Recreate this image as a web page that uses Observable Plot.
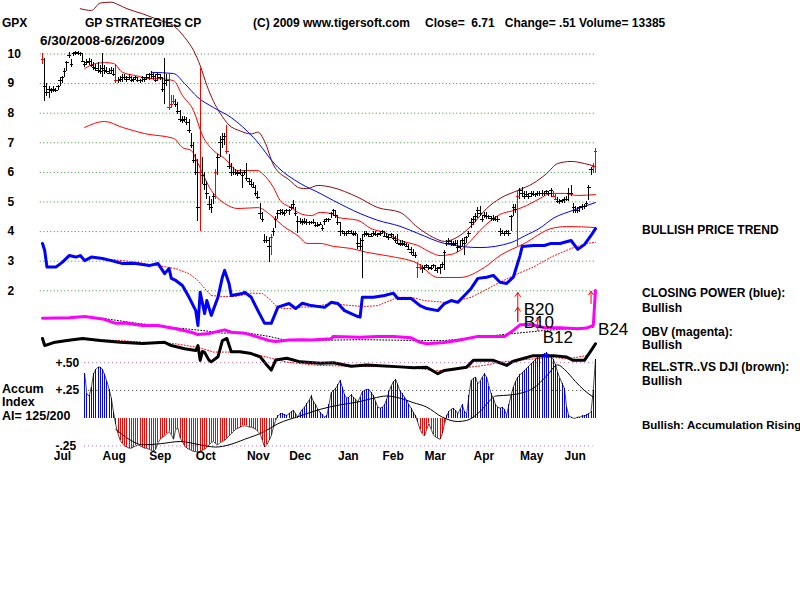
<!DOCTYPE html>
<html><head><meta charset="utf-8">
<script src="https://cdn.jsdelivr.net/npm/d3@7"></script>
<script src="https://cdn.jsdelivr.net/npm/@observablehq/plot@0.6"></script>
<style>
html,body{margin:0;padding:0;background:#fff;}
#wrap{position:relative;width:800px;height:600px;background:#fff;overflow:hidden;}
#wrap svg{position:absolute;left:0;top:0;}
.t{position:absolute;font:bold 12px "Liberation Sans",Arial,sans-serif;white-space:pre;line-height:12px;color:#000;}
</style></head><body><div id="wrap"></div>
<script>
// ---- daily price bars (trading days 0..249, 6/30/2008 - 6/26/2009) ----
const hi = [
10.0,9.85,9.0,8.9,8.85,8.9,8.85,8.95,9.2,9.25,
9.5,9.75,10.05,9.8,10.05,10.1,10.1,10.05,10.0,9.75,
9.8,9.85,9.8,9.7,9.65,9.7,9.6,10.0,9.6,9.55,
9.5,9.55,9.5,9.65,9.2,9.25,9.3,9.3,9.25,9.3,
9.25,9.2,9.25,9.2,9.15,9.25,9.2,9.3,9.35,9.4,
9.35,9.3,9.35,9.3,9.2,9.85,9.3,9.35,8.6,8.6,
8.45,8.35,8.1,7.9,7.9,7.85,7.8,7.3,7.0,6.6,
6.45,9.5,6.5,6.0,5.7,5.2,5.1,5.3,6.1,6.6,
7.2,7.3,7.3,7.6,6.6,6.3,6.15,6.1,6.05,6.1,
6.0,6.05,6.3,5.8,5.75,5.65,5.55,5.35,4.95,4.65,
3.9,3.85,3.8,3.9,4.1,4.5,4.7,4.75,4.75,4.7,
4.75,4.75,4.9,5.05,4.8,4.5,4.45,4.4,4.45,4.4,
4.35,4.35,4.4,4.3,4.3,4.3,4.2,4.4,4.45,4.45,
4.65,4.75,4.7,4.55,4.3,4.05,4.0,4.0,4.05,4.05,
4.0,4.0,3.9,3.75,3.9,4.0,4.0,3.95,3.95,4.0,
4.0,3.95,4.0,4.05,4.0,3.95,3.9,3.95,3.9,3.85,
3.9,3.7,3.7,3.65,3.6,3.55,3.45,3.4,3.3,2.95,
2.9,2.85,2.85,2.9,2.85,2.85,2.9,2.85,2.8,2.9,
2.95,3.35,3.7,3.75,3.7,3.65,3.7,3.7,3.65,3.75,
3.8,3.85,4.0,4.45,4.5,4.6,4.8,4.85,4.55,4.65,
4.65,4.55,4.5,4.55,4.5,4.5,4.1,4.05,4.0,4.05,
4.05,4.55,4.9,4.9,5.35,5.45,5.5,5.35,5.35,5.3,
5.35,5.35,5.3,5.35,5.35,5.4,5.35,5.4,5.35,5.45,
5.35,5.25,5.15,5.1,5.1,5.15,5.2,5.45,5.55,4.95,
4.85,4.8,4.85,4.9,4.9,5.0,5.55,6.15,6.3,6.8];
const lo = [
9.65,8.4,8.55,8.5,8.65,8.7,8.7,8.75,8.9,9.0,
9.2,9.4,9.85,9.55,9.9,9.95,9.95,9.9,9.7,9.55,
9.6,9.6,9.55,9.45,9.4,9.35,9.3,9.2,9.3,9.35,
9.3,9.3,9.25,9.0,9.0,9.05,9.05,9.1,9.05,9.1,
9.05,9.05,9.1,9.05,9.0,9.05,9.05,9.1,9.1,9.15,
9.1,9.05,9.1,9.1,8.7,8.3,8.9,8.1,8.15,8.3,
8.2,7.95,7.7,7.65,7.7,7.6,7.3,6.8,6.3,5.9,
4.35,4.0,5.6,5.4,5.1,4.7,4.6,4.9,5.1,5.9,
6.5,6.8,6.9,6.6,6.1,5.85,5.9,5.9,5.85,5.9,
5.45,5.9,5.7,5.6,5.5,5.45,5.2,5.1,4.4,4.3,
3.6,3.6,2.95,3.2,3.85,4.1,4.4,4.55,4.55,4.5,
4.6,4.55,4.7,4.75,4.5,3.95,4.25,4.2,4.25,4.2,
4.2,4.25,4.25,4.15,4.15,4.2,4.0,4.2,4.3,4.3,
4.45,4.5,4.45,4.2,3.85,3.9,3.85,3.85,3.9,3.9,
3.85,3.85,3.4,3.35,2.4,3.8,3.85,3.8,3.8,3.85,
3.85,3.8,3.85,3.9,3.8,3.75,3.7,3.75,3.7,3.6,
3.55,3.5,3.5,3.5,3.45,3.35,3.2,3.15,3.1,2.4,
2.7,2.6,2.7,2.75,2.7,2.7,2.75,2.65,2.6,2.55,
2.75,2.7,3.5,3.55,3.5,3.5,3.5,3.3,3.4,3.5,
3.2,3.6,3.8,4.1,4.2,4.3,4.45,4.5,4.3,4.45,
4.4,4.4,4.35,4.35,4.35,4.3,3.85,3.9,3.85,3.9,
3.85,4.0,4.5,4.6,3.5,5.1,5.15,5.1,5.15,5.1,
5.15,5.2,5.15,5.2,5.2,5.2,5.2,5.25,5.2,5.15,
5.15,5.05,4.95,4.9,4.95,4.95,5.0,5.0,5.2,4.6,
4.6,4.6,4.65,4.7,4.75,4.8,5.05,5.9,5.95,5.95];
const cl = [
9.8,8.9,8.7,8.8,8.75,8.8,8.75,8.9,9.1,9.2,
9.4,9.7,9.95,9.65,10.0,10.05,10.0,10.0,9.75,9.65,
9.7,9.75,9.6,9.55,9.5,9.45,9.4,9.5,9.45,9.4,
9.35,9.45,9.3,9.1,9.1,9.15,9.2,9.2,9.15,9.2,
9.1,9.15,9.2,9.1,9.1,9.2,9.15,9.2,9.3,9.3,
9.25,9.1,9.3,9.2,8.8,9.0,9.1,8.2,8.3,8.4,
8.3,8.05,7.8,7.75,7.8,7.7,7.4,6.9,6.4,6.0,
4.8,6.0,5.9,5.6,5.3,4.9,4.8,5.2,6.0,6.5,
7.0,7.1,7.2,6.7,6.2,6.0,6.0,6.0,5.95,6.0,
5.9,6.0,5.8,5.7,5.6,5.5,5.3,5.15,4.6,4.4,
3.7,3.7,3.5,3.8,4.0,4.4,4.6,4.7,4.65,4.6,
4.7,4.7,4.8,4.9,4.6,4.35,4.35,4.3,4.35,4.3,
4.3,4.3,4.3,4.2,4.2,4.25,4.1,4.35,4.4,4.4,
4.6,4.7,4.55,4.3,4.0,4.0,3.95,3.95,4.0,3.95,
3.9,3.95,3.6,3.5,3.7,3.9,3.95,3.9,3.85,3.95,
3.9,3.9,3.95,4.0,3.85,3.85,3.8,3.9,3.75,3.7,
3.6,3.55,3.6,3.55,3.5,3.4,3.3,3.2,3.2,2.8,
2.8,2.75,2.8,2.85,2.8,2.75,2.85,2.7,2.75,2.8,
2.9,3.3,3.6,3.65,3.6,3.55,3.6,3.45,3.5,3.7,
3.6,3.8,3.95,4.3,4.4,4.5,4.7,4.6,4.4,4.55,
4.5,4.5,4.45,4.45,4.4,4.4,4.0,3.95,3.95,4.0,
3.95,4.5,4.8,4.75,5.2,5.4,5.3,5.2,5.25,5.2,
5.3,5.25,5.25,5.3,5.3,5.3,5.3,5.35,5.3,5.4,
5.2,5.1,5.0,5.0,5.05,5.1,5.1,5.3,5.3,4.8,
4.7,4.7,4.8,4.85,4.85,4.95,5.5,6.1,6.2,6.71];
const redDays = [0,33,57,58,59,71,78,83,103,169,170,214,230,231,248,249];

// ---- price bands / moving averages: [day, price] ----
const upperBand = [[17,11.53],[22,11.47],[26,11.72],[31,11.75],[34,11.67],[38,11.53],[45,11.36],[53,11.13],[59,10.96],[64,10.56],[68,10.12],[71,9.61],[74,8.94],[77,8.4],[80,8.0],[84,7.6],[89,7.4],[94,7.3],[97,7.36],[100,7.05],[104,6.25],[111,5.75],[116,5.47],[119,5.45],[124,5.56],[130,5.5],[142,5.16],[151,4.81],[161,4.65],[169,4.14],[176,3.8],[181,3.67],[188,3.87],[194,4.27],[200,4.78],[206,5.12],[214,5.39],[221,5.63],[227,5.96],[232,6.3],[238,6.37],[244,6.3],[249,6.2]];
const midMA = [[19,9.51],[24,9.68],[28,9.71],[32,9.68],[36,9.38],[42,9.27],[48,9.17],[52,9.17],[59,9.1],[63,8.6],[68,8.09],[72,7.25],[77,6.74],[82,6.47],[88,6.06],[93,6.06],[97,6.06],[99,5.96],[104,5.49],[107,5.05],[112,4.81],[116,4.61],[121,4.54],[125,4.65],[130,4.61],[133,4.48],[142,4.38],[148,4.1],[154,3.97],[161,3.7],[169,3.53],[175,3.29],[179,3.19],[184,3.23],[188,3.36],[193,3.7],[197,4.04],[202,4.38],[206,4.58],[212,4.71],[218,4.88],[224,5.12],[229,5.29],[235,5.29],[241,5.22],[249,5.25]];
const lowBand = [[19,7.52],[28,7.72],[36,7.52],[46,7.31],[59,7.15],[63,6.84],[67,6.74],[70,6.3],[76,5.39],[82,4.95],[88,4.78],[97,4.81],[103,4.54],[108,4.21],[116,3.8],[119,3.6],[125,3.6],[131,3.5],[139,3.43],[146,3.3],[157,3.16],[169,2.92],[178,2.45],[188,2.45],[199,2.79],[206,3.19],[217,3.6],[229,4.1],[236,4.17],[249,4.14]];
const blueMA = [[49,9.38],[59,9.34],[64,9.0],[70,8.53],[77,8.19],[85,7.85],[95,7.18],[106,6.17],[116,5.63],[125,5.29],[131,5.05],[143,4.61],[151,4.38],[161,4.18],[169,3.94],[181,3.6],[197,3.46],[211,3.63],[217,3.85],[224,4.12],[230,4.45],[239,4.72],[249,4.98]];

// ---- indicators (read against the price grid): [day, value] ----
const closingPower = [[0,3.6],[1,3.36],[2,2.8],[6,2.8],[9,2.97],[12,3.19],[15,3.14],[17,3.19],[19,3.02],[22,3.14],[27,3.09],[31,3.02],[36,2.92],[42,2.92],[48,2.85],[52,2.92],[55,2.58],[57,2.75],[58,2.42],[60,2.35],[63,2.18],[66,1.78],[69,1.33],[70,0.83],[71,1.95],[73,1.23],[74,1.67],[76,1.17],[79,1.78],[81,2.46],[82,2.69],[84,2.25],[85,1.84],[90,1.91],[91,1.95],[94,1.78],[97,1.33],[100,0.9],[103,0.9],[106,1.45],[111,1.57],[114,1.4],[117,1.58],[121,1.5],[127,1.44],[130,1.61],[133,1.57],[136,1.33],[142,1.13],[143,1.11],[144,1.78],[149,1.78],[154,1.84],[158,1.92],[160,1.74],[166,1.74],[170,1.5],[173,1.4],[178,1.33],[181,1.57],[184,1.67],[187,1.61],[190,1.84],[193,2.08],[196,2.42],[200,2.46],[203,2.52],[206,2.29],[209,2.25],[212,2.46],[215,3.19],[216,3.5],[221,3.53],[226,3.53],[229,3.6],[233,3.6],[238,3.7],[241,3.4],[244,3.56],[247,3.87],[249,4.1]];
const closingPowerMA = [[31,3.06],[42,2.97],[52,2.85],[60,2.75],[66,2.58],[70,2.35],[73,2.08],[76,1.84],[81,1.81],[87,1.81],[94,1.92],[99,1.91],[102,1.74],[105,1.5],[108,1.4],[111,1.4],[117,1.45],[121,1.45],[130,1.57],[139,1.5],[145,1.47],[151,1.5],[160,1.78],[166,1.78],[172,1.67],[181,1.61],[187,1.67],[193,1.78],[199,2.01],[206,2.29],[214,2.58],[221,2.8],[229,3.14],[238,3.43],[245,3.6],[249,3.64]];
const obv = [[0,1.07],[12,1.09],[19,1.13],[27,1.05],[33,0.9],[37,0.91],[45,0.83],[52,0.83],[60,0.72],[67,0.6],[70,0.52],[75,0.56],[79,0.63],[82,0.68],[85,0.6],[91,0.57],[96,0.46],[102,0.32],[105,0.29],[111,0.34],[117,0.35],[121,0.34],[130,0.38],[131,0.46],[143,0.43],[151,0.46],[158,0.46],[166,0.41],[170,0.26],[173,0.21],[181,0.25],[188,0.34],[196,0.46],[208,0.46],[212,0.66],[215,0.85],[220,0.86],[226,0.75],[233,0.75],[241,0.72],[245,0.74],[248,0.83],[249,2.01]];
const obvMA = [[27,1.07],[42,0.91],[57,0.77],[72,0.66],[81,0.57],[90,0.6],[102,0.46],[109,0.34],[121,0.32],[143,0.35],[170,0.32],[181,0.32],[196,0.43],[211,0.55],[226,0.66],[248,0.77]];
const relStr = [[0,0.39],[1,0.15],[5,0.25],[11,0.32],[18,0.39],[26,0.32],[35,0.26],[45,0.22],[55,0.26],[58,0.15],[64,0.04],[69,-0.02],[70,0.15],[71,-0.35],[72,-0.05],[73,-0.08],[75,-0.35],[76,-0.4],[79,-0.23],[81,0.32],[83,0.39],[85,-0.06],[89,-0.06],[94,-0.12],[98,-0.23],[101,-0.51],[103,-0.68],[105,-0.34],[110,-0.28],[116,-0.4],[125,-0.45],[131,-0.43],[139,-0.55],[146,-0.51],[161,-0.57],[167,-0.6],[173,-0.58],[178,-0.8],[181,-0.69],[191,-0.58],[194,-0.35],[203,-0.35],[209,-0.52],[212,-0.38],[221,-0.19],[230,-0.19],[236,-0.24],[239,-0.35],[244,-0.35],[247,-0.02],[249,0.21]];
const relStrMA = [[18,0.36],[35,0.32],[45,0.26],[59,0.22],[70,0.09],[77,-0.07],[86,-0.07],[95,-0.13],[101,-0.24],[110,-0.41],[124,-0.52],[146,-0.56],[161,-0.56],[176,-0.69],[184,-0.69],[191,-0.59],[199,-0.52],[206,-0.41],[214,-0.35],[221,-0.3],[229,-0.24],[236,-0.3],[245,-0.19]];

// ---- accumulation index, daily from day 19 ----
const accumStart = 19;
const accumValues = [
0.40,0.22,0.20,0.28,0.40,0.44,0.46,0.46,0.44,0.39,
0.33,0.26,0.18,0.05,-0.06,-0.14,-0.20,-0.23,-0.25,-0.26,
-0.27,-0.27,-0.26,-0.25,-0.24,-0.25,-0.26,-0.27,-0.27,-0.28,
-0.29,-0.30,-0.28,-0.22,-0.19,-0.17,-0.16,-0.14,-0.12,-0.15,
-0.19,-0.10,-0.09,-0.18,-0.21,-0.25,-0.27,-0.28,-0.29,-0.30,
-0.30,-0.31,-0.30,-0.29,-0.28,-0.26,-0.24,-0.22,-0.21,-0.23,
-0.24,-0.22,-0.21,-0.20,-0.18,-0.16,-0.14,-0.12,-0.10,-0.09,
-0.08,-0.07,-0.07,-0.07,-0.08,-0.08,-0.09,-0.10,-0.12,-0.14,
-0.20,-0.26,-0.24,-0.20,-0.16,-0.08,-0.02,0.02,0.04,0.04,
0.03,0.025,0.04,0.06,0.07,0.04,0.01,0.05,0.08,0.10,
0.13,0.16,0.20,0.15,0.12,0.08,0.05,0.03,0.01,0.02,
0.12,0.23,0.25,0.27,0.30,0.34,0.28,0.21,0.18,0.19,
0.21,0.19,0.17,0.15,0.19,0.24,0.25,0.26,0.26,0.23,
0.20,0.15,0.10,0.09,0.10,0.12,0.17,0.24,0.29,0.33,
0.35,0.30,0.24,0.22,0.19,0.16,0.12,0.09,0.05,0.02,
-0.04,-0.10,-0.14,-0.16,-0.10,-0.05,-0.10,-0.15,-0.17,-0.18,
-0.19,-0.14,-0.05,0.02,0.06,0.08,0.09,0.07,0.04,0.08,
0.12,0.06,0.04,0.20,0.34,0.36,0.37,0.31,0.33,0.37,
0.40,0.37,0.29,0.22,0.18,0.12,0.10,0.09,0.10,0.08,
0.025,0.12,0.21,0.28,0.33,0.37,0.39,0.41,0.43,0.45,
0.47,0.49,0.51,0.53,0.55,0.56,0.57,0.58,0.59,0.57,
0.55,0.53,0.48,0.41,0.36,0.31,0.27,0.10,0.02,0.01,
0.0,0.0,0.01,0.01,0.02,0.02,0.03,0.04,0.06,0.25,
0.53];
const accumMA = [[33,-0.10],[39,-0.19],[45,-0.24],[53,-0.23],[62,-0.21],[71,-0.24],[78,-0.26],[84,-0.24],[91,-0.19],[100,-0.12],[106,-0.05],[116,0.02],[125,0.08],[134,0.12],[143,0.15],[149,0.18],[155,0.20],[161,0.18],[167,0.14],[173,0.10],[180,0.01],[187,-0.03],[191,-0.02],[197,0.06],[202,0.17],[204,0.20],[211,0.21],[221,0.27],[227,0.38],[232,0.48],[235,0.44],[240,0.33],[244,0.25],[248,0.19]];

// ---- axes / labels ----
const priceTicks = [2,3,4,5,6,7,8,9,10];
const accumTicks = [0.5,0.25,-0.25];
const monthDays = [1,23,44,65,88,107,129,149,168,190,211,231];
const monthNames = ["Jul","Aug","Sep","Oct","Nov","Dec","Jan","Feb","Mar","Apr","May","Jun"];
const signalDays = [214,214,223,247];
const signalLabels = ["B20","B10","B12","B24"];

// ---------------------------------------------------------------
const FONT = '"Liberation Sans", Arial, sans-serif';
const W = 800, H = 470, ML = 42, MR = 205, MB = 20;
const bars = hi.map((h, i) => ({i, hi: h, lo: lo[i], cl: cl[i], red: redDays.includes(i)}));
const accum = accumValues.map((a, k) => ({i: k + accumStart, a}));
const P = (arr, opts) => Plot.line(arr, {x: d => d[0], y: d => d[1], ...opts});

// layout of signal arrows / labels on the price grid
const sigLayout = [
  {tip: 1.94, base: 0.96, ly: 1.37, dx: 6},
  {tip: 1.44, base: 0.96, ly: 0.93, dx: 6},
  {tip: 1.06, base: 0.66, ly: 0.42, dx: 5},
  {tip: 1.98, base: 1.57, ly: 0.69, dx: 7}
];
const signals = signalDays.map((d, k) => ({day: d, label: signalLabels[k], ...sigLayout[k]}));

const svgStyle = `background: transparent; font-family: ${FONT}; font-size: 12px; font-weight: bold; overflow: visible;`;

const pricePlot = Plot.plot({
  width: W, height: H, marginLeft: ML, marginRight: MR, marginTop: 0, marginBottom: MB,
  style: svgStyle,
  x: {domain: [0, 249], axis: null},
  y: {domain: [-3.395, 11.807]},
  marks: [
    Plot.ruleY(priceTicks, {x1: -1, x2: 248.5, stroke: "#2f8f2f", strokeDasharray: "1,2.5", strokeWidth: 1}),
    Plot.axisY(priceTicks, {anchor: "left", tickSize: 0, tickPadding: 0, textAnchor: "start", dx: -35, label: null, color: "black", fontSize: 12, fontWeight: "bold"}),
    P(upperBand, {stroke: "#8b0a0a", strokeWidth: 1, curve: "monotone-x"}),
    P(lowBand, {stroke: "#ff0000", strokeWidth: 1, curve: "monotone-x"}),
    P(midMA, {stroke: "#ff0000", strokeWidth: 1, curve: "monotone-x"}),
    P(blueMA, {stroke: "#0000ff", strokeWidth: 1, curve: "monotone-x"}),
    Plot.ruleX(bars.filter(d => !d.red), {x: "i", y1: "lo", y2: "hi", stroke: "#000", strokeWidth: 1, shapeRendering: "crispEdges"}),
    Plot.link(bars.filter(d => !d.red), {x1: d => d.i - 0.8, x2: d => d.i + 0.8, y1: "cl", y2: "cl", stroke: "#000", strokeWidth: 1, shapeRendering: "crispEdges"}),
    Plot.ruleX(bars.filter(d => d.red), {x: "i", y1: "lo", y2: "hi", stroke: "#ff0000", strokeWidth: 1, shapeRendering: "crispEdges"}),
    Plot.link(bars.filter(d => d.red), {x1: d => d.i - 0.8, x2: d => d.i + 0.8, y1: "cl", y2: "cl", stroke: "#ff0000", strokeWidth: 1, shapeRendering: "crispEdges"}),
    P(closingPowerMA, {stroke: "#ff0000", strokeWidth: 1, strokeDasharray: "1,2"}),
    P(obvMA, {stroke: "#000", strokeWidth: 1, strokeDasharray: "1,2"}),
    P(relStrMA, {stroke: "#ff0000", strokeWidth: 1, strokeDasharray: "1,2"}),
    P(closingPower, {stroke: "#0000ff", strokeWidth: 3}),
    P(obv, {stroke: "#ff00ff", strokeWidth: 3}),
    P(relStr, {stroke: "#000", strokeWidth: 3}),
    Plot.arrow(signals, {x1: "day", x2: "day", y1: "base", y2: "tip", stroke: "#ff0000", strokeWidth: 1, headLength: 7, headAngle: 70}),
    Plot.text(signals, {x: "day", y: "ly", text: "label", textAnchor: "start", fontSize: 17, fontWeight: "normal", fill: "#000"})
  ]
});

const accumPlot = Plot.plot({
  width: W, height: H, marginLeft: ML, marginRight: MR, marginTop: 0, marginBottom: MB,
  style: svgStyle,
  x: {domain: [0, 249]},
  y: {domain: [-0.291, 3.763]},
  marks: [
    Plot.ruleY([0.5], {x1: accumStart, x2: 248, stroke: "#9a4f9a", strokeDasharray: "1,3"}),
    Plot.ruleY([0.25], {x1: accumStart, x2: 248, stroke: "#333", strokeDasharray: "1,3"}),
    Plot.ruleY([-0.25], {x1: accumStart, x2: 248, stroke: "#b060b0", strokeDasharray: "1,3"}),
    Plot.ruleX(accum.filter(d => d.a >= 0), {x: "i", y1: 0, y2: "a", stroke: "#0000ff", strokeWidth: 1, shapeRendering: "crispEdges"}),
    Plot.ruleX(accum.filter(d => d.a < 0), {x: "i", y1: 0, y2: "a", stroke: "#ff0000", strokeWidth: 1, shapeRendering: "crispEdges"}),
    Plot.line(accum, {x: "i", y: "a", stroke: "#000", strokeWidth: 0.7}),
    P(accumMA, {stroke: "#000", strokeWidth: 1, curve: "monotone-x"}),
    Plot.axisY(accumTicks, {anchor: "left", tickSize: 0, tickPadding: 0, textAnchor: "start", dx: 13, label: null, color: "black", fontSize: 12, fontWeight: "bold",
      tickFormat: d => (d > 0 ? "+" : "-") + Math.abs(d).toFixed(2).slice(1)}),
    Plot.axisX(monthDays, {anchor: "bottom", tickSize: 0, tickPadding: 1, textAnchor: "start", dx: 9, label: null, color: "black", fontSize: 12, fontWeight: "bold",
      tickFormat: d => monthNames[monthDays.indexOf(d)]})
  ]
});

const wrap = document.getElementById("wrap");
wrap.appendChild(pricePlot);
wrap.appendChild(accumPlot);
// per-signal horizontal offset of the label from its arrow
pricePlot.querySelectorAll("g[aria-label='text'] text").forEach((t, k) => {
  if (signals[k]) t.setAttribute("dx", signals[k].dx);
});

const texts = [
  ["GPX", 2, 16.5, 12],
  ["GP STRATEGIES CP", 85, 16.5, 12],
  ["(C) 2009 www.tigersoft.com", 253, 16.5, 12],
  ["Close=  6.71   Change= .51 Volume= 13385", 425, 16.5, 12],
  ["6/30/2008-6/26/2009", 40, 33.5, 13.5],
  ["BULLISH PRICE TREND", 642, 224, 12],
  ["CLOSING POWER (blue):", 642, 287, 12],
  ["Bullish", 642, 302, 12],
  ["OBV (magenta):", 642, 326, 12],
  ["Bullish", 642, 339, 12],
  ["REL.STR..VS DJI (brown):", 642, 361, 12],
  ["Bullish", 642, 375, 12],
  ["Bullish: Accumulation Rising", 642, 420, 11.5],
  ["Accum", 2, 383, 12.5],
  ["Index", 2, 396, 12.5],
  ["AI= 125/200", 2, 410, 12.5]
];
for (const [s, x, y, fs] of texts) {
  const d = document.createElement("div");
  d.className = "t";
  d.textContent = s;
  d.style.left = x + "px";
  d.style.top = y + "px";
  d.style.fontSize = fs + "px";
  d.style.lineHeight = fs + "px";
  wrap.appendChild(d);
}
</script></body></html>
